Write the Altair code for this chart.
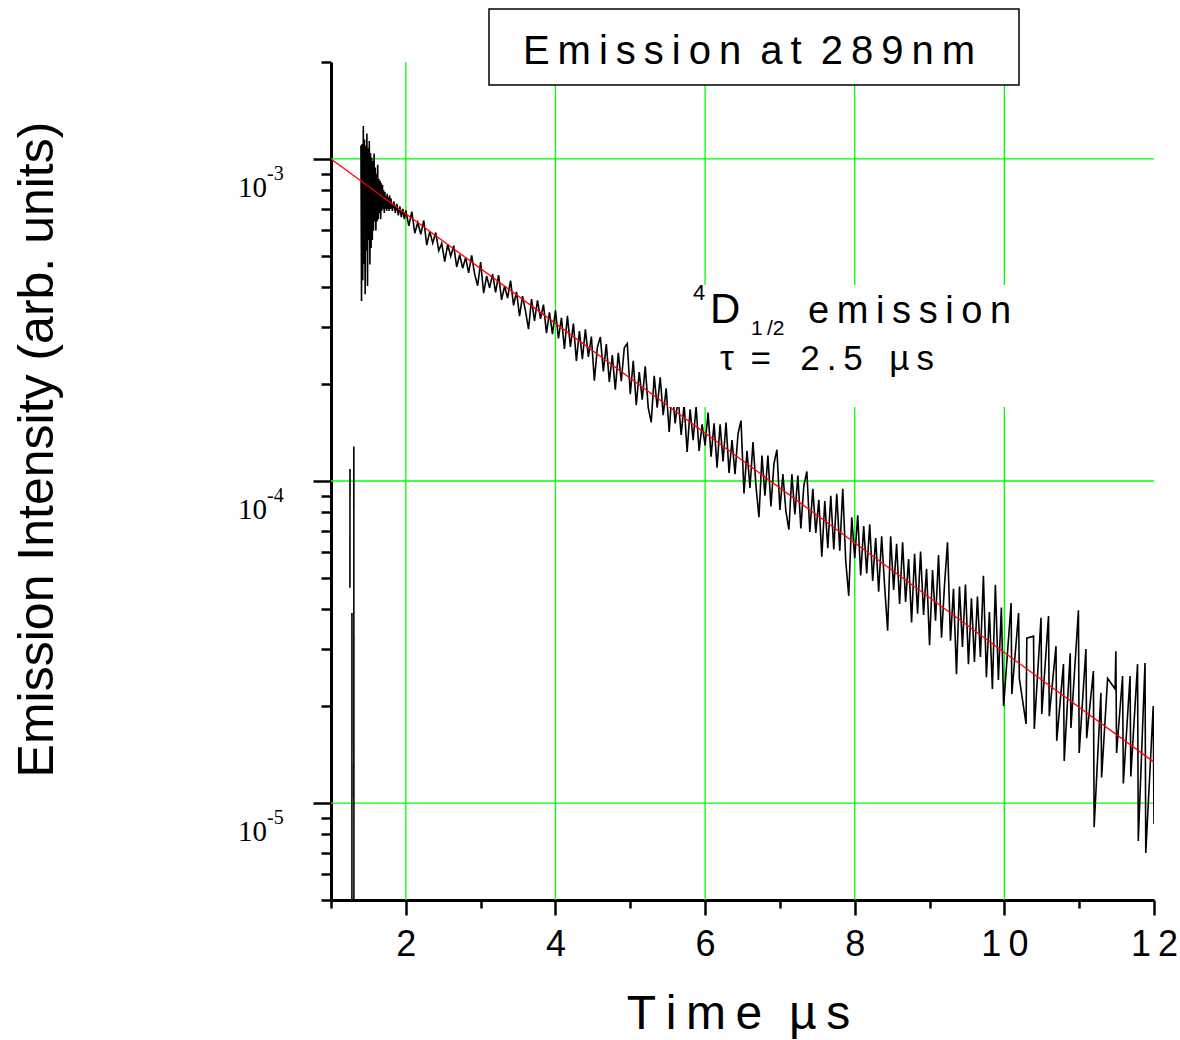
import json
import altair as alt
import pandas as pd

# ---------------- data (intensities in units of 1e-6 arb. units) ----------------
# short detector spikes before the decay trace starts
spike_t = [1.253, 1.254, 1.279, 1.280, 1.305, 1.307]
spike_I = [46.6, 109.0, 1.0, 38.9, 128.0, 1.0]
spike_seg = [0, 0, 1, 1, 2, 2]

# decay trace, early very noisy part (1.400 .. 1.792 us, every 0.008 us)
early_t0, early_dt = 1.400, 0.008
early_I = [1100, 362, 1113, 420, 1266, 472, 1150, 380, 1098, 520,
           1200, 403, 1080, 560, 1137, 470, 1044, 529, 1010, 560,
           986, 598, 1040, 640, 940, 600, 900, 640, 960, 650,
           867, 680, 855, 650, 840, 690, 830, 700, 800, 680,
           790, 700, 767, 690, 780, 700, 760, 690, 770, 700]

# decay trace, 1.80 .. 1.98 us, every 0.02 us
mid_t0, mid_dt = 1.80, 0.02
mid_I = [755, 690, 738, 680, 725, 668, 712, 660, 700, 650]

# decay trace, 2.00 .. 9.96 us, every 0.04 us
main_t0, main_dt = 2.00, 0.04
main_I = [692, 620, 686, 588, 635, 583, 644, 540, 596, 548,
          591, 519, 547, 480, 543, 498, 538, 462, 504, 458,
          494, 443, 502, 439, 404, 478, 383, 433, 398, 439,
          385, 436, 365, 403, 370, 419, 351, 387, 325, 375,
          337, 296, 367, 314, 364, 319, 353, 288, 334, 286,
          339, 277, 321, 257, 326, 261, 308, 236, 292, 239,
          296, 243, 281, 205, 260, 280, 219, 266, 203, 246,
          192, 250, 204, 259, 267, 186, 236, 172, 218, 179,
          227, 169, 152, 212, 169, 210, 160, 194, 142, 193,
          151, 182, 139, 173, 123, 167, 134, 170, 124, 150,
          129, 163, 119, 151, 110, 150, 115, 152, 106, 134,
          105, 140, 154, 91.5, 124, 95.1, 132, 96.5, 77.2, 120,
          90.0, 120, 83.3, 113, 125, 81.3, 105, 80.6, 70.6, 105,
          78.7, 104, 71.2, 96.8, 107, 69.5, 94.5, 69.0, 87.4, 58.2,
          86.7, 61.8, 90.0, 61.3, 91.3, 60.8, 94.6, 56.3, 44.0, 77.1,
          57.6, 78.2, 50.9, 72.4, 51.6, 73.4, 48.9, 66.5, 45.3, 67.4,
          47.0, 34.3, 67.4, 45.9, 63.8, 41.5, 64.5, 42.1, 57.2, 36.4,
          59.4, 38.7, 60.4, 38.4, 53.4, 30.9, 52.9, 36.8, 58.9, 32.6,
          47.5, 64.5, 31.9, 46.3, 25.1, 47.0, 30.5, 47.7, 27.0, 43.2,
          27.4, 43.8, 28.4, 50.8, 24.6, 39.2, 22.6, 47.6, 24.1, 40.5]

# decay trace, sparse tail 10 .. 12 us
tail_t = [9.99, 10.09, 10.10, 10.19, 10.20, 10.29, 10.30, 10.39, 10.40, 10.49,
          10.50, 10.59, 10.60, 10.69, 10.70, 10.79, 10.80, 10.88, 10.89, 10.99,
          11.00, 11.09, 11.10, 11.19, 11.20, 11.29, 11.30, 11.38, 11.48, 11.49,
          11.50, 11.58, 11.59, 11.68, 11.69, 11.78, 11.79, 11.88, 11.89, 11.99,
          12.00]
tail_I = [20.0, 41.8, 21.8, 38.9, 24.4, 17.6, 32.5, 33.0, 17.0, 37.6,
          18.9, 38.1, 18.6, 30.7, 15.6, 27.0, 13.5, 29.2, 17.1, 39.7,
          14.3, 30.1, 15.9, 25.7, 8.42, 22.0, 12.0, 24.4, 22.6, 29.6,
          14.3, 24.8, 11.5, 24.8, 12.1, 27.0, 7.62, 27.2, 7.0, 20.0,
          8.61]

# single-exponential fit (tau = 2.5 us), end points
fit_t = [1.0, 12.0]
fit_I = [1000.0, 13.4]

# axes and grid
x_ticks = [1, 2, 3, 4, 5, 6, 7, 8, 9, 10, 11, 12]
x_tick_text = ["", "2", "", "4", "", "6", "", "8", "", "1\u20090", "", "1\u20092"]
grid_x = [2, 4, 6, 8, 10]
y_major = [1e-5, 1e-4, 1e-3]
y_exp = ["-5", "-4", "-3"]
y_minor = [5e-6, 6e-6, 7e-6, 8e-6, 9e-6,
           2e-5, 3e-5, 4e-5, 5e-5, 6e-5, 7e-5, 8e-5, 9e-5,
           2e-4, 3e-4, 4e-4, 5e-4, 6e-4, 7e-4, 8e-4, 9e-4,
           2e-3]

# ---------------- tables ----------------
U = 1e-6
trace_t = ([round(early_t0 + i * early_dt, 4) for i in range(len(early_I))]
           + [round(mid_t0 + i * mid_dt, 4) for i in range(len(mid_I))]
           + [round(main_t0 + i * main_dt, 4) for i in range(len(main_I))]
           + tail_t)
trace_I = early_I + mid_I + main_I + tail_I

decay = pd.DataFrame({
    "t": spike_t + trace_t,
    "I": [v * U for v in spike_I + trace_I],
    "seg": spike_seg + [3] * len(trace_t),
})
decay["k"] = range(len(decay))
fit = pd.DataFrame({"t": fit_t, "I": [v * U for v in fit_I]})
ylab = pd.DataFrame({"I": y_major, "base": ["10"] * len(y_major), "exp": y_exp})
gx = pd.DataFrame({"t": grid_x})
gy = pd.DataFrame({"I": y_major})
one = pd.DataFrame({"a": [0]})

# ---------------- scales / axes ----------------
major_test = " || ".join(f"datum.value == {v!r}" for v in y_major)
x_axis = alt.Axis(
    values=x_ticks,
    labelExpr=f"{json.dumps(x_tick_text)}[indexof({json.dumps(x_ticks)}, datum.value)]",
    tickSize={"condition": {"test": "datum.value % 2 == 0", "value": 15}, "value": 8},
    tickWidth=2.5, tickColor="black",
    domainColor="black", domainWidth=3,
    grid=False,
    labelFont="Liberation Sans", labelFontSize=36, labelColor="black",
    labelPadding=12, labelFlush=False, labelOverlap=False,
    title="T\u2009i\u2009m\u2009e\u00a0\u00a0\u00b5\u2009s",
    titleFont="Liberation Sans", titleFontSize=48, titleFontWeight="normal", titleColor="black",
    titleX=407, titleY=128, titleAlign="center", titleBaseline="alphabetic",
)
y_axis = alt.Axis(
    values=sorted(y_minor + y_major),
    labels=False,
    tickSize={"condition": {"test": major_test, "value": 18}, "value": 10},
    tickWidth=2.5, tickColor="black",
    domainColor="black", domainWidth=3,
    grid=False,
    title="Emission Intensity (arb. units)",
    titleFont="Liberation Sans", titleFontSize=50, titleFontWeight="normal", titleColor="black",
    titleAngle=270, titleX=-279, titleY=387, titleAlign="center", titleBaseline="alphabetic",
)
x_enc = alt.X("t:Q", scale=alt.Scale(domain=[1, 12], nice=False, zero=False), axis=x_axis)
y_enc = alt.Y("I:Q", scale=alt.Scale(type="log", domain=[5e-6, 2e-3], nice=False), axis=y_axis)

# ---------------- layers ----------------
grid_v = alt.Chart(gx).mark_rule(color="#00ff00", strokeWidth=1.3).encode(
    x=x_enc, y=alt.value(0), y2=alt.value(838))
grid_h = alt.Chart(gy).mark_rule(color="#00ff00", strokeWidth=1.3).encode(
    y=y_enc, x=alt.value(0), x2=alt.value(823))

decay_line = alt.Chart(decay).mark_line(color="black", strokeWidth=1.6, clip=True).encode(
    x=x_enc, y=y_enc, detail="seg:N", order="k:Q")
fit_line = alt.Chart(fit).mark_line(color="#ff0000", strokeWidth=1.3, clip=True).encode(x=x_enc, y=y_enc)

ann_box = alt.Chart(one).mark_rect(fill="white").encode(
    x=alt.value(337), x2=alt.value(697), y=alt.value(223), y2=alt.value(345))
title_box = alt.Chart(one).mark_rect(fill="white", stroke="black", strokeWidth=1.5).encode(
    x=alt.value(158), x2=alt.value(688), y=alt.value(-53), y2=alt.value(23))


def txt(s, x, y, size, font="Liberation Sans", align="left"):
    return alt.Chart(one).mark_text(text=s, font=font, fontSize=size, align=align,
                                    baseline="alphabetic", color="black").encode(
        x=alt.value(x), y=alt.value(y))


def spaced(s):
    return "\u2009 ".join("\u2009".join(w) for w in s.split(" "))


title_txt = txt(spaced("Emission at 289nm"), 418, 2, 40, align="center")
sup4 = txt("4", 362, 238, 22)
d_txt = txt("D", 379, 261, 42)
half = txt("1\u2009/2", 420, 273, 21)
emis = txt(spaced("emission"), 477, 261, 38)
tau = txt("\u03c4\u00a0\u2009=\u00a0\u00a0\u00a02\u2009.\u20095\u00a0\u00a0\u2009\u00b5\u2009s", 389, 308, 35)

ylab_base = alt.Chart(ylab).mark_text(font="Liberation Serif", fontSize=29, align="left",
                                      baseline="alphabetic", dy=38, color="black").encode(
    x=alt.value(-93), y=y_enc, text="base:N")
ylab_exp = alt.Chart(ylab).mark_text(font="Liberation Serif", fontSize=20, align="left",
                                     baseline="alphabetic", dy=21, color="black").encode(
    x=alt.value(-64), y=y_enc, text="exp:N")

chart = alt.layer(
    grid_v, grid_h, decay_line, fit_line, ann_box, title_box,
    title_txt, sup4, d_txt, half, emis, tau, ylab_base, ylab_exp,
).properties(
    width=823, height=838,
    autosize=alt.AutoSizeParams(type="none"),
    padding={"left": 331, "top": 62, "right": 26, "bottom": 140},
    background="white",
).configure_view(stroke="transparent")

chart.save("out.html", embed_options={"renderer": "svg", "actions": False})
